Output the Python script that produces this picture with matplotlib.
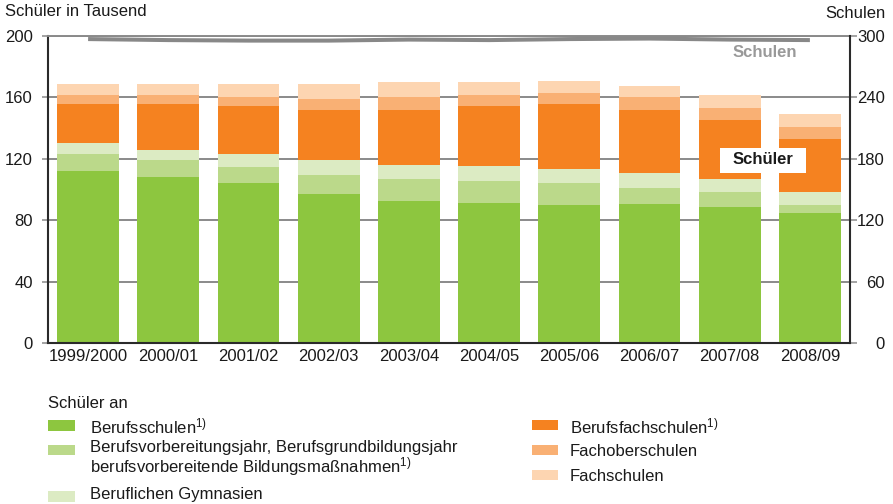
import numpy as np
import matplotlib
matplotlib.use("Agg")
import matplotlib.pyplot as plt
from matplotlib.patches import Rectangle

plt.rcParams['font.family'] = ['Liberation Sans', 'DejaVu Sans']
plt.rcParams['mathtext.fontset'] = 'custom'
plt.rcParams['mathtext.rm'] = 'Liberation Sans'
plt.rcParams['mathtext.it'] = 'Liberation Sans'
plt.rcParams['mathtext.bf'] = 'Liberation Sans:bold'
plt.rcParams['mathtext.default'] = 'regular'

# ---------------- data ----------------
years = ["1999/2000", "2000/01", "2001/02", "2002/03", "2003/04",
         "2004/05", "2005/06", "2006/07", "2007/08", "2008/09"]
berufsschulen = [112.0, 108.0, 104.0, 97.0, 92.4, 91.0, 89.8, 90.4, 88.5, 84.6]
bvj_bgj       = [11.0, 11.0, 10.5, 12.3, 14.3, 14.4, 14.2, 10.4, 9.7, 5.2]
gymnasien     = [7.1, 6.5, 8.5, 9.7, 9.1, 9.7, 9.2, 9.8, 8.5, 8.4]
berufsfach    = [25.3, 29.9, 31.1, 32.5, 35.7, 39.0, 42.2, 40.9, 38.3, 34.5]
fachober      = [5.9, 5.9, 5.9, 7.2, 8.5, 7.2, 7.2, 8.5, 7.8, 7.8]
fachschulen   = [7.2, 7.2, 8.5, 9.8, 9.8, 8.5, 8.4, 7.2, 8.5, 8.5]
schulen       = [297, 296, 295.5, 295.5, 296.5, 296, 297, 297.5, 296.5, 296]

left_ticks = [0, 40, 80, 120, 160, 200]
right_ticks = [0, 60, 120, 180, 240, 300]

series = [berufsschulen, bvj_bgj, gymnasien, berufsfach, fachober, fachschulen]
colors = ['#8dc63f', '#bbd98a', '#dcebc3', '#f58220', '#f9b074', '#fdd5b1']
legend_left = ["Berufsschulen$^{1)}$",
               "Berufsvorbereitungsjahr, Berufsgrundbildungsjahr\n"
               "berufsvorbereitende Bildungsmaßnahmen$^{1)}$",
               "Beruflichen Gymnasien"]
legend_right = ["Berufsfachschulen$^{1)}$", "Fachoberschulen", "Fachschulen"]

W, H = 893, 504
fig = plt.figure(figsize=(W / 100, H / 100), dpi=100)


def fx(px):
    return px / W


def fy(py):
    return 1 - py / H


ax = fig.add_axes([fx(48), fy(343), (850 - 48) / W, (343 - 36) / H])
x = np.arange(len(years))
bottom = np.zeros(len(years))
for vals, c in zip(series, colors):
    ax.bar(x, vals, width=0.77, bottom=bottom, color=c, zorder=2, linewidth=0)
    bottom += np.array(vals)

grid_c = '#8a8a8a'
ax.set_xlim(-0.5, len(years) - 0.5)
ax.set_ylim(0, 200)
ax.set_yticks(left_ticks)
ax.set_xticks(x)
ax.set_xticklabels(years)
ax.yaxis.grid(True, color=grid_c, linewidth=1.4, zorder=0)
ax.set_axisbelow(True)
ax.tick_params(axis='y', direction='out', length=4.5, width=1.1, color=grid_c,
               labelsize=12, pad=6.5, labelcolor='#1a1a1a')
ax.tick_params(axis='x', length=0, pad=4, labelsize=12, labelcolor='#1a1a1a')
for s in ['left', 'bottom']:
    ax.spines[s].set_color('#2a2a2a')
    ax.spines[s].set_linewidth(1.5)
ax.spines['top'].set_color(grid_c)
ax.spines['top'].set_linewidth(1.4)
ax.spines['right'].set_visible(False)

ax2 = ax.twinx()
ax2.set_ylim(0, 300)
ax2.set_yticks(right_ticks)
ax2.plot(x, schulen, color='#888888', linewidth=2.9, solid_capstyle='butt', zorder=3)
ax2.tick_params(axis='y', direction='out', length=5, width=1.1, color=grid_c,
                labelsize=12, pad=20, labelcolor='#1a1a1a')
for lab in ax2.get_yticklabels():
    lab.set_horizontalalignment('right')
for s in ['left', 'top', 'bottom']:
    ax2.spines[s].set_visible(False)
ax2.spines['right'].set_color('#2a2a2a')
ax2.spines['right'].set_linewidth(1.5)

# in-plot labels
ax2.text(8.44, 284, "Schulen", ha='center', va='center', fontsize=12,
         fontweight='bold', color='#999999')
fig.patches.append(Rectangle((fx(720), fy(173)), 86 / W, 25 / H,
                             transform=fig.transFigure, facecolor='white',
                             edgecolor='none', zorder=5))
fig.text(fx(763), fy(160), "Schüler", ha='center', va='center', fontsize=12,
         fontweight='bold', color='#1a1a1a', zorder=6)

# axis titles
fig.text(fx(5), fy(12), "Schüler in Tausend", ha='left', va='center',
         fontsize=12, color='#1a1a1a')
fig.text(fx(886), fy(14), "Schulen", ha='right', va='center',
         fontsize=12, color='#1a1a1a')

# legend
fig.text(fx(48), fy(404), "Schüler an", ha='left', va='center', fontsize=12,
         color='#1a1a1a')
left_rows = [(420, 426.5), (444.5, 459), (491, 495)]
for (ptop, ty), lab, c in zip(left_rows, legend_left, colors[:3]):
    fig.patches.append(Rectangle((fx(48), fy(ptop + 10.5)), 27 / W, 10.5 / H,
                                 transform=fig.transFigure, facecolor=c,
                                 edgecolor='none'))
    fig.text(fx(90), fy(ty), lab, ha='left', va='center', fontsize=12,
             color='#1a1a1a', linespacing=1.0)
right_rows = [(419.5, 426.5), (444.5, 451.5), (469.5, 476.5)]
for (ptop, ty), lab, c in zip(right_rows, legend_right, colors[3:]):
    fig.patches.append(Rectangle((fx(532), fy(ptop + 10.5)), 26 / W, 10.5 / H,
                                 transform=fig.transFigure, facecolor=c,
                                 edgecolor='none'))
    fig.text(fx(570), fy(ty), lab, ha='left', va='center', fontsize=12,
             color='#1a1a1a')

fig.savefig('out.png', dpi=100)
